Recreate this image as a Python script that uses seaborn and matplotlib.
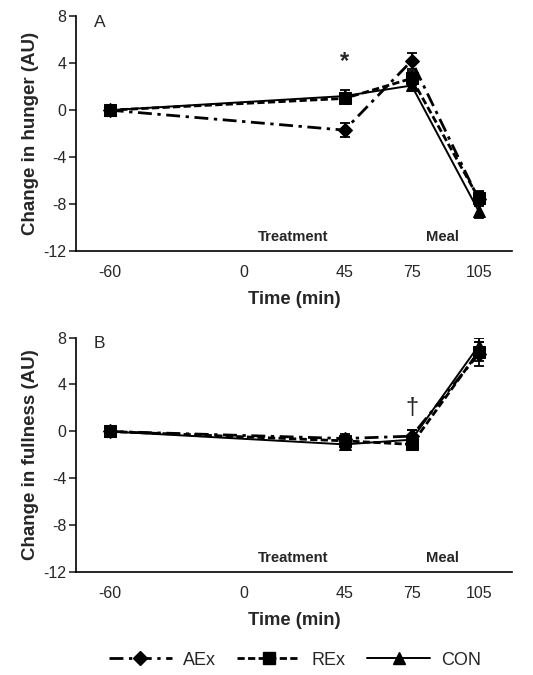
import numpy as np
import pandas as pd
import matplotlib
matplotlib.use('Agg')
import matplotlib.pyplot as plt
from matplotlib.lines import Line2D
import seaborn as sns

# time points (min)
times = [-60, 45, 75, 105]
groups = ['AEx', 'REx', 'CON']

# change in hunger (AU), mean and SEM
hunger_aex = [0.0, -1.7, 4.2, -7.6]
hunger_rex = [0.0, 1.0, 2.7, -7.5]
hunger_con = [0.0, 1.2, 2.1, -8.6]
hunger_aex_err = [0.3, 0.6, 0.7, 0.6]
hunger_rex_err = [0.3, 0.5, 0.6, 0.6]
hunger_con_err = [0.3, 0.5, 0.5, 0.6]

# change in fullness (AU), mean and SEM
full_aex = [0.0, -0.6, -0.4, 6.6]
full_rex = [0.0, -0.8, -1.1, 6.8]
full_con = [0.0, -1.1, -0.7, 7.3]
full_aex_err = [0.2, 0.4, 0.5, 1.0]
full_rex_err = [0.2, 0.3, 0.4, 0.8]
full_con_err = [0.2, 0.4, 0.8, 0.7]

xticks = [-60, 0, 45, 75, 105]
yticks = [-12, -8, -4, 0, 4, 8]

sns.set_style('white')
plt.rcParams['font.family'] = ['Liberation Sans', 'DejaVu Sans']
plt.rcParams['axes.unicode_minus'] = False

styles = {
    'AEx': dict(marker='D', ms=7.5, dashes=(5, 2, 1.2, 2), lw=2.0),
    'REx': dict(marker='s', ms=8, dashes=(2.6, 1.2), lw=2.0),
    'CON': dict(marker='^', ms=9, dashes='', lw=1.4),
}


def build_frame(vals, errs):
    rows = []
    for g, v, e in zip(groups, vals, errs):
        for t, m, s in zip(times, v, e):
            rows.append({'Time': t, 'Value': m, 'SEM': s, 'Group': g})
    return pd.DataFrame(rows)


def draw_panel(ax, df, ylabel, letter):
    sns.lineplot(
        data=df, x='Time', y='Value', hue='Group', style='Group',
        palette={g: 'black' for g in groups},
        dashes={g: styles[g]['dashes'] for g in groups},
        markers={g: styles[g]['marker'] for g in groups},
        markersize=7, markeredgecolor='black', legend=False, ax=ax,
    )
    for line, g in zip(ax.get_lines(), groups):
        line.set_linewidth(styles[g]['lw'])
        line.set_markersize(styles[g]['ms'])
    for g in groups:
        sub = df[df['Group'] == g]
        ax.errorbar(sub['Time'], sub['Value'], yerr=sub['SEM'], fmt='none',
                    ecolor='black', elinewidth=1.3, capsize=3.5, capthick=1.3)
    ax.set_xlim(-75, 120)
    ax.set_ylim(-12, 8)
    ax.set_xticks(xticks)
    ax.set_yticks(yticks)
    ax.tick_params(axis='x', length=0, labelsize=11.5, pad=10)
    ax.tick_params(axis='y', length=5, width=1.2, direction='out', left=True,
                   labelsize=11.5, pad=2)
    for side in ['top', 'right']:
        ax.spines[side].set_visible(False)
    for side in ['left', 'bottom']:
        ax.spines[side].set_linewidth(1.2)
        ax.spines[side].set_color('black')
    ax.set_xlabel('Time (min)', fontsize=13.3, fontweight='bold', labelpad=8)
    ax.set_ylabel(ylabel, fontsize=13.5, fontweight='bold', labelpad=3)
    ax.text(-67, 8.1, letter, fontsize=12.5, va='top', ha='left')
    ax.text(22, -10.8, 'Treatment', fontsize=10.7, fontweight='bold',
            ha='center', va='center')
    ax.text(89, -10.8, 'Meal', fontsize=10.7, fontweight='bold',
            ha='center', va='center')


fig = plt.figure(figsize=(5.33, 6.75), dpi=100)
ax_a = fig.add_axes([0.143, 0.628, 0.818, 0.348])
ax_b = fig.add_axes([0.143, 0.152, 0.818, 0.348])

draw_panel(ax_a, build_frame([hunger_aex, hunger_rex, hunger_con],
                             [hunger_aex_err, hunger_rex_err, hunger_con_err]),
           'Change in hunger (AU)', 'A')
draw_panel(ax_b, build_frame([full_aex, full_rex, full_con],
                             [full_aex_err, full_rex_err, full_con_err]),
           'Change in fullness (AU)', 'B')

ax_a.text(45, 3.2, '*', fontsize=17, fontweight='bold', ha='center', va='bottom')
ax_b.text(75, 2.0, '\u2020', fontsize=17, ha='center', va='center')

handles = []
for g in groups:
    h = Line2D([], [], color='black', lw=styles[g]['lw'], marker=styles[g]['marker'],
               ms=styles[g]['ms'])
    if styles[g]['dashes']:
        h.set_dashes(styles[g]['dashes'])
    handles.append(h)
fig.legend(handles, groups, loc='center', bbox_to_anchor=(0.553, 0.022), ncol=3,
           frameon=False, fontsize=13, handlelength=3.5, columnspacing=1.2,
           handletextpad=0.6)

fig.savefig('out.png', dpi=100)
